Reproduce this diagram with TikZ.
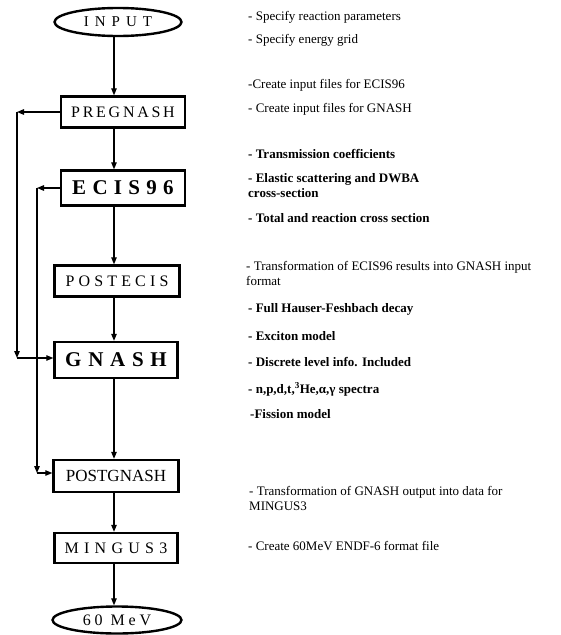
\documentclass[tikz,border=0pt]{standalone}
\usepackage{fontspec}
\setmainfont{Liberation Serif}
\usetikzlibrary{arrows.meta,shapes.geometric}
\tikzset{
  flowbox/.style={draw, line width=2.4pt, fill=white, minimum width=124pt, minimum height=31pt, inner sep=0pt},
  flowend/.style={ellipse, draw, line width=2.4pt, fill=white, minimum width=127pt, minimum height=28pt, inner sep=0pt},
  flowarrow/.style={line width=1.2pt, -{Triangle[length=7pt,width=5.5pt]}},
  note/.style={anchor=base west, inner sep=0pt, align=left, font=\fontsize{13}{15}\selectfont},
  boldnote/.style={note, font=\fontsize{13}{15}\selectfont\bfseries}
}
\newcommand{\spaced}[3]{\fontsize{#1}{#1}\selectfont\addfontfeature{LetterSpace=#2}#3}

\begin{document}
\begin{tikzpicture}[x=1pt, y=-1pt]
  \useasboundingbox (0,0) rectangle (560,635);

  \node[flowend] (input) at (118,22) {\spaced{15}{40}{INPUT}};
  \node[flowbox] (pregnash) at (123,112) {\spaced{16}{17}{PREGNASH}};
  \node[flowbox, minimum height=35pt] (ecis) at (123,188) {\bfseries\spaced{21}{30}{ECIS96}};
  \node[flowbox, minimum width=125pt] (postecis) at (117,281) {\spaced{16}{26}{POSTECIS}};
  \node[flowbox, minimum width=123pt, minimum height=36pt] (gnash) at (116,360) {\bfseries\spaced{21}{32}{GNASH}};
  \node[flowbox, minimum width=125pt, minimum height=32pt] (postgnash) at (116,476) {\spaced{17}{0}{POSTGNASH}};
  \node[flowbox, minimum width=123pt, minimum height=30pt] (mingus) at (116,548) {\spaced{16}{33}{MINGUS3}};
  \node[flowend, minimum width=129pt, minimum height=27pt] (final) at (117,620) {\spaced{16}{24}{60 MeV}};

  \coordinate (spine) at (114,0);
  \coordinate (loopa) at (17,0);
  \coordinate (loopb) at (37,0);

  \draw[flowarrow] (input.south -| spine) -- (pregnash.north -| spine);
  \draw[flowarrow] (pregnash.south -| spine) -- (ecis.north -| spine);
  \draw[flowarrow] (ecis.south -| spine) -- (postecis.north -| spine);
  \draw[flowarrow] (postecis.south -| spine) -- (gnash.north -| spine);
  \draw[flowarrow] (gnash.south -| spine) -- (postgnash.north -| spine);
  \draw[flowarrow] (postgnash.south -| spine) -- (mingus.north -| spine);
  \draw[flowarrow] (mingus.south -| spine) -- (final.north -| spine);

  % side paths
  \draw[flowarrow] (pregnash.west) -- (pregnash.west -| loopa);
  \draw[flowarrow] (pregnash.west -| loopa) -- ([yshift=2pt]gnash.west -| loopa);
  \draw[flowarrow] ([yshift=2pt]gnash.west -| loopa) -- ([yshift=2pt]gnash.west);
  \draw[flowarrow] (ecis.west) -- (ecis.west -| loopb);
  \draw[flowarrow] (ecis.west -| loopb) -- ([yshift=3pt]postgnash.west -| loopb);
  \draw[flowarrow] ([yshift=3pt]postgnash.west -| loopb) -- ([yshift=3pt]postgnash.west);

  % two-line notes sit on the baseline of their last line
  \node[note] (n1) at (248,20) {- Specify reaction parameters};
  \node[note] (n2) at (248,43) {- Specify energy grid};
  \node[note] (n3) at (248,88) {-Create input files for ECIS96};
  \node[note] (n4) at (248,112) {- Create input files for GNASH};
  \node[boldnote] (n5) at (248,158) {- Transmission coefficients};
  \node[boldnote] (n6) at (248,197) {- Elastic scattering and DWBA\\cross-section};
  \node[boldnote] (n7) at (248,222) {- Total and reaction cross section};
  \node[note] (n8) at (246,285) {- Transformation of ECIS96 results into GNASH input\\format};
  \node[boldnote] (n9) at (248,312) {- Full Hauser-Feshbach decay};
  \node[boldnote] (n10) at (248,340) {- Exciton model};
  \node[boldnote] (n11) at (248,366) {- Discrete level info. Included};
  \node[boldnote] (n12) at (248,393) {- n,p,d,t,\textsuperscript{3}He,α,γ spectra};
  \node[boldnote] (n13) at (250,418) {-Fission model};
  \node[note] (n14) at (249,510) {- Transformation of GNASH output into data for\\MINGUS3};
  \node[note] (n15) at (248,550) {- Create 60MeV ENDF-6 format file};
\end{tikzpicture}
\end{document}
